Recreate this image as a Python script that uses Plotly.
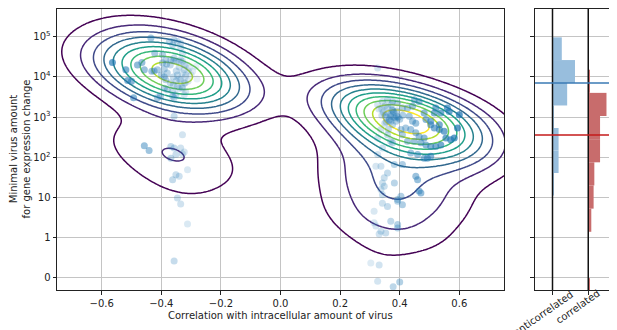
import numpy as np
import plotly.graph_objects as go

# ---------------- data ----------------
# anticorrelated genes: (correlation, log-position of minimal virus amount)
anti_x = [-0.564, -0.519, -0.513, -0.500, -0.493, -0.480, -0.465, -0.457, -0.435, -0.432,
          -0.424, -0.413, -0.422, -0.396, -0.390, -0.385, -0.390, -0.413, -0.403, -0.362,
          -0.357, -0.382, -0.373, -0.357, -0.346, -0.335, -0.357, -0.335, -0.329, -0.346,
          -0.335, -0.323, -0.340, -0.323, -0.357, -0.329, -0.323, -0.318, -0.362, -0.335,
          -0.329, -0.368, -0.351, -0.340, -0.323, -0.346, -0.329, -0.318, -0.351, -0.362,
          -0.380, -0.318, -0.306, -0.295, -0.284, -0.396, -0.385,
          -0.457, -0.441, -0.368, -0.357, -0.335, -0.323, -0.351, -0.329, -0.368, -0.351,
          -0.340, -0.312, -0.346, -0.335, -0.312, -0.357, -0.362,
          -0.380, -0.360, -0.340, -0.320, -0.370, -0.350, -0.330, -0.310, -0.360, -0.340,
          -0.300, -0.390, -0.370, -0.330, -0.350, -0.310, -0.400, -0.280, -0.360, -0.320]
anti_y = [5.36, 5.18, 4.91, 4.89, 4.48, 5.30, 5.36, 5.18, 5.97, 5.14,
          5.15, 5.18, 5.59, 5.55, 5.00, 4.93, 4.72, 4.48, 4.52, 4.52,
          4.48, 5.32, 5.88, 5.92, 5.88, 5.84, 5.47, 5.43, 5.39, 5.05,
          4.93, 4.85, 4.72, 4.56, 4.02, 3.56, 5.18, 5.05, 5.80, 5.72,
          5.59, 5.43, 5.39, 5.39, 5.30, 4.77, 4.72, 4.64, 4.56, 4.64,
          4.68, 5.30, 5.22, 5.14, 5.26, 5.35, 5.42,
          3.29, 3.17, 3.27, 3.23, 3.23, 3.13, 3.07, 3.08, 2.98, 2.57,
          2.53, 2.69, 1.99, 1.84, 1.34, 0.42, 2.44,
          5.10, 5.00, 4.95, 5.00, 4.85, 5.15, 5.10, 4.90, 4.80, 5.25,
          5.05, 5.20, 5.30, 4.75, 4.90, 5.15, 5.05, 4.95, 5.40, 4.85]

# correlated genes
corr_x = [0.326, 0.326, 0.342, 0.359, 0.376, 0.393, 0.409, 0.426, 0.443, 0.449,
          0.465, 0.482, 0.488, 0.504, 0.516, 0.521, 0.538, 0.560, 0.566, 0.600,
          0.594, 0.504, 0.516, 0.533, 0.533, 0.549, 0.555, 0.571, 0.583, 0.432,
          0.443, 0.454, 0.370, 0.376, 0.404, 0.420, 0.437, 0.454, 0.465, 0.482,
          0.449, 0.471, 0.488, 0.504, 0.521, 0.538, 0.460, 0.482, 0.493, 0.504,
          0.437, 0.409, 0.426, 0.359, 0.370, 0.376, 0.337, 0.326, 0.342, 0.326,
          0.320, 0.337, 0.382, 0.409, 0.359, 0.348, 0.342, 0.454, 0.460, 0.382,
          0.348, 0.337, 0.342, 0.465, 0.471, 0.404, 0.409, 0.393, 0.393, 0.342,
          0.359, 0.314, 0.370, 0.393, 0.393, 0.320, 0.337, 0.353, 0.314, 0.331,
          0.303, 0.331, 0.326, 0.378, 0.400,
          0.350, 0.365, 0.380, 0.395, 0.340, 0.355, 0.372, 0.388, 0.362, 0.378,
          0.360, 0.380, 0.340, 0.370, 0.390, 0.350, 0.400, 0.330, 0.360, 0.410,
          0.355, 0.370, 0.385, 0.345, 0.375, 0.365, 0.390, 0.350]
corr_y = [5.22, 4.31, 4.39, 4.43, 4.39, 4.35, 4.23, 4.23, 4.27, 4.43,
          4.39, 4.10, 3.94, 3.90, 4.10, 4.23, 4.10, 4.23, 4.14, 4.06,
          3.73, 3.81, 3.73, 3.81, 3.69, 3.65, 3.48, 3.44, 3.48, 4.02,
          3.90, 3.85, 4.02, 3.81, 3.69, 3.73, 3.69, 3.61, 3.52, 3.48,
          3.40, 3.36, 3.31, 3.27, 3.27, 3.31, 3.07, 2.98, 2.98, 3.03,
          3.11, 3.56, 3.40, 3.56, 3.40, 3.36, 3.69, 3.48, 3.23, 3.07,
          2.78, 2.78, 2.82, 2.82, 2.61, 2.49, 2.36, 2.53, 2.44, 2.36,
          2.28, 2.20, 2.07, 2.16, 2.11, 2.03, 1.82, 1.91, 1.95, 1.86,
          1.78, 1.66, 1.41, 1.33, 1.24, 1.29, 1.16, 1.12, 1.37, 1.09,
          0.37, 0.32, -0.08, -0.22, -0.10,
          4.05, 3.95, 4.12, 4.00, 4.20, 3.88, 4.30, 3.90, 3.70, 4.15,
          4.10, 4.00, 4.05, 3.90, 4.15, 3.85, 3.95, 4.20, 4.25, 4.05,
          4.00, 4.08, 3.98, 4.12, 4.18, 3.92, 4.02, 4.28]

x_tick_vals = [-0.6, -0.4, -0.2, 0.0, 0.2, 0.4, 0.6]
x_tick_text = ["\u22120.6", "\u22120.4", "\u22120.2", "0.0", "0.2", "0.4", "0.6"]
y_tick_vals = [0, 1, 2, 3, 4, 5, 6]
y_tick_text = ["0", "1", "10", "10<sup>2</sup>", "10<sup>3</sup>", "10<sup>4</sup>", "10<sup>5</sup>"]

groups = ["anticorrelated", "correlated"]
anti_hist_edges = [2.05, 2.61, 3.17, 3.73, 4.29, 4.85, 5.42, 5.985]
anti_hist_vals = [0.03, 0.17, 0.17, 0.04, 0.41, 0.63, 0.26]
corr_hist_edges = [-0.58, -0.004, 0.572, 1.148, 1.724, 2.30, 2.876, 3.452, 4.028, 4.604, 5.18]
corr_hist_vals = [0.03, 0.0, 0.02, 0.085, 0.15, 0.17, 0.33, 0.33, 0.51, 0.035]
anti_median = 4.85
corr_median = 3.555

# ---------------- figure ----------------
FONT = "DejaVu Sans"
BLUE = "#1f77b4"

all_x = np.array(anti_x + corr_x)
all_y = np.array(anti_y + corr_y)

# gaussian KDE (Scott's rule, full covariance)
pts = np.vstack([all_x, all_y])
n = pts.shape[1]
fac = n ** (-1.0 / 6.0)
kcov = np.cov(pts) * fac ** 2
inv = np.linalg.inv(kcov)
norm = 1.0 / (n * 2 * np.pi * np.sqrt(np.linalg.det(kcov)))
gx = np.linspace(-0.8, 0.8, 220)
gy = np.linspace(-0.5, 7.0, 220)
GX, GY = np.meshgrid(gx, gy)
dx = GX[..., None] - all_x
dy = GY[..., None] - all_y
q = inv[0, 0] * dx * dx + 2 * inv[0, 1] * dx * dy + inv[1, 1] * dy * dy
Z = np.exp(-0.5 * q).sum(-1) * norm
zmax = Z.max()
step = zmax / 11.0
lv_start, lv_end = step, step * 10

alpha = np.clip(0.1 + (np.abs(all_x) - 0.28) * 2.0, 0.08, 0.75)

fig = go.Figure()
fig.add_trace(go.Scatter(
    x=all_x, y=all_y, mode="markers",
    marker=dict(color=BLUE, size=7, opacity=alpha, line=dict(width=0)),
    xaxis="x", yaxis="y", showlegend=False, hoverinfo="skip"))
fig.add_trace(go.Contour(
    x=gx, y=gy, z=Z, colorscale="Viridis", showscale=False,
    zauto=False, zmin=lv_start, zmax=lv_end,
    contours=dict(coloring="lines", start=lv_start, end=lv_end, size=step),
    line=dict(width=1.5), xaxis="x", yaxis="y", hoverinfo="skip"))

def centers(e):
    return [(a + b) / 2 for a, b in zip(e[:-1], e[1:])]

def widths(e):
    return [b - a for a, b in zip(e[:-1], e[1:])]

fig.add_trace(go.Bar(
    orientation="h", y=centers(anti_hist_edges), x=anti_hist_vals, base=0,
    width=widths(anti_hist_edges), marker=dict(color="rgb(152,190,221)", line=dict(width=0)),
    xaxis="x2", yaxis="y2", showlegend=False))
fig.add_trace(go.Bar(
    orientation="h", y=centers(corr_hist_edges), x=corr_hist_vals, base=1,
    width=widths(corr_hist_edges), marker=dict(color="rgb(200,108,108)", line=dict(width=0)),
    xaxis="x2", yaxis="y2", showlegend=False))

ax_common = dict(showgrid=True, gridcolor="#c4c4c4", gridwidth=1, zeroline=False,
                 showline=True, mirror=True, linecolor="#222", linewidth=1,
                 ticks="outside", ticklen=3.5, tickcolor="#222",
                 tickfont=dict(family=FONT, size=10, color="#222"))

fig.update_layout(
    width=617, height=330, margin=dict(l=49, r=1, t=1, b=48),
    paper_bgcolor="white", plot_bgcolor="white", barmode="overlay",
    font=dict(family=FONT, size=10, color="#222"),
    xaxis=dict(domain=[0, 0.7884], range=[-0.75, 0.75], tickvals=x_tick_vals,
               ticktext=x_tick_text, anchor="y", **ax_common),
    yaxis=dict(domain=[0, 1], range=[-0.3, 6.69], tickvals=y_tick_vals,
               ticktext=y_tick_text, anchor="x", **ax_common),
    xaxis2=dict(domain=[0.843, 1], range=[-0.49, 2.0], tickvals=[0, 1],
                ticktext=["", ""], anchor="y2",
                **{**ax_common, "showgrid": False}),
    yaxis2=dict(domain=[0, 1], range=[-0.3, 6.69], tickvals=y_tick_vals,
                ticktext=[""] * len(y_tick_vals), anchor="x2", matches="y",
                **ax_common),
    shapes=[
        dict(type="line", xref="x2", yref="y2 domain", x0=0, x1=0, y0=0, y1=1,
             line=dict(color="#111", width=1.5)),
        dict(type="line", xref="x2", yref="y2 domain", x0=1, x1=1, y0=0, y1=1,
             line=dict(color="#111", width=1.5)),
        dict(type="line", xref="x2 domain", yref="y2", x0=0, x1=1, y0=anti_median,
             y1=anti_median, line=dict(color="#3a7ab4", width=1.5)),
        dict(type="line", xref="x2 domain", yref="y2", x0=0, x1=1, y0=corr_median,
             y1=corr_median, line=dict(color="#c41a1a", width=1.5)),
    ],
    annotations=[
        dict(text="Correlation with intracellular amount of virus", xref="x", yref="paper",
             x=0, y=-0.09, xanchor="center", yanchor="middle", showarrow=False,
             font=dict(family=FONT, size=10, color="#222")),
        dict(text="Minimal virus amount<br>for gene expression change", xref="paper",
             yref="paper", x=-0.067, y=0.5, xanchor="center", yanchor="middle",
             textangle=-90, showarrow=False,
             font=dict(family=FONT, size=10, color="#222")),
        dict(text=groups[0], xref="x2", yref="paper", x=-0.27, y=-0.082,
             xanchor="center", yanchor="middle", textangle=-35, showarrow=False,
             font=dict(family=FONT, size=10, color="#222")),
        dict(text=groups[1], xref="x2", yref="paper", x=0.71, y=-0.057,
             xanchor="center", yanchor="middle", textangle=-35, showarrow=False,
             font=dict(family=FONT, size=10, color="#222")),
    ],
)

fig.write_html("out.html")
